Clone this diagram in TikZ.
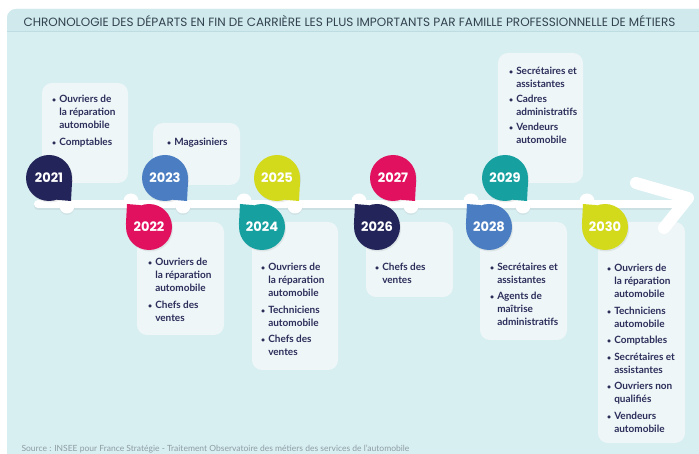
\documentclass[tikz,border=0pt]{standalone}
\usepackage{fontspec}
\setmainfont{Lato}
\newfontfamily\poppins{Poppins}
\definecolor{panelbg}{HTML}{D8EFF2}
\definecolor{headbg}{HTML}{CFE9ED}
\definecolor{headline}{HTML}{BEDDE3}
\definecolor{titlegray}{HTML}{33424F}
\definecolor{listnavy}{HTML}{2C2E5A}
\definecolor{boxbg}{HTML}{EEF6F8}
\definecolor{srcgray}{HTML}{8C9CA2}
\definecolor{ynavy}{HTML}{232459}
\definecolor{ypink}{HTML}{E2115F}
\definecolor{yblue}{HTML}{4A7DC1}
\definecolor{yteal}{HTML}{17A0A0}
\definecolor{yyellow}{HTML}{D3D91B}
\usetikzlibrary{positioning, calc, fit, shadows}
\newcommand{\bul}{{\fontsize{7}{7}\selectfont\textbullet}}

\begin{document}
\begin{tikzpicture}[x=1pt, y=-1pt,
    year/.style={circle, minimum size=46pt, inner sep=0pt, text=white,
                 font=\poppins\bfseries\fontsize{13}{13}\selectfont,
                 drop shadow={opacity=0.15, shadow xshift=1pt, shadow yshift=-1.5pt}},
    listbox/.style={rectangle, rounded corners=10pt, fill=boxbg, inner sep=0pt},
    liste/.style={anchor=north west, inner sep=0pt, text=listnavy,
                  font=\bfseries\fontsize{10}{13}\selectfont, align=left},
    trail/.style={white, line width=8pt, line cap=round}
  ]
    \useasboundingbox (0,0) rectangle (699,454);
    \clip (0,0) rectangle (699,454);
    % Panel and header band
    \fill[panelbg, rounded corners=9pt] (7,9) rectangle (720,480);
    \fill[headbg] (7,32) [rounded corners=9pt] -- (7,9) -- (720,9) [sharp corners] -- (720,32) -- cycle;
    \draw[headline, line width=1pt] (7,32) -- (699,32);
    \node[anchor=west, text=titlegray, font=\poppins\fontsize{12}{13}\selectfont] (title) at (20,21)
      {CHRONOLOGIE DES DÉPARTS EN FIN DE CARRIÈRE LES PLUS IMPORTANTS PAR FAMILLE PROFESSIONNELLE DE MÉTIERS};
    % Source
    \node[anchor=base west, text=srcgray, font=\fontsize{8.5}{9}\selectfont] (src) at (18,451)
      {Source : INSEE pour France Stratégie - Traitement Observatoire des métiers des services de l'automobile};

    % Boxes above the timeline
    \node[listbox, fit={(42,83) (128,183)}]  (b21) {};
    \node[listbox, fit={(153,123) (240,185)}] (b23) {};
    \node[listbox, fit={(498,53) (583,183)}]  (b29) {};
    % Boxes below the timeline
    \node[listbox, fit={(137,222) (224,335)}] (b22) {};
    \node[listbox, fit={(252,222) (338,370)}] (b24) {};
    \node[listbox, fit={(366,222) (453,297)}] (b26) {};
    \node[listbox, fit={(480,222) (567,340)}] (b28) {};
    \node[listbox, fit={(598,222) (685,443)}] (b30) {};

    % Lists of jobs
    \node[liste] (t21) at (52,93.5) {\begin{tabular}{@{}l@{\hspace{3pt}}l@{}}
      \bul & Ouvriers de\\ & la réparation\\ & automobile\\[4pt]
      \bul & Comptables\end{tabular}};
    \node[liste] (t23) at (167,136.5) {\begin{tabular}{@{}l@{\hspace{3pt}}l@{}}
      \bul & Magasiniers\end{tabular}};
    \node[liste] (t29) at (509,65.5) {\begin{tabular}{@{}l@{\hspace{3pt}}l@{}}
      \bul & Secrétaires et\\ & assistantes\\[2pt]
      \bul & Cadres\\ & administratifs\\[2pt]
      \bul & Vendeurs\\ & automobile\end{tabular}};
    \node[liste] (t22) at (148,256.5) {\begin{tabular}{@{}l@{\hspace{3pt}}l@{}}
      \bul & Ouvriers de\\ & la réparation\\ & automobile\\[4pt]
      \bul & Chefs des\\ & ventes\end{tabular}};
    \node[liste] (t24) at (261,261.5) {\begin{tabular}{@{}l@{\hspace{3pt}}l@{}}
      \bul & Ouvriers de\\ & la réparation\\ & automobile\\[3.5pt]
      \bul & Techniciens\\ & automobile\\[3.5pt]
      \bul & Chefs des\\ & ventes\end{tabular}};
    \node[liste] (t26) at (375,261.5) {\begin{tabular}{@{}l@{\hspace{3pt}}l@{}}
      \bul & Chefs des\\ & ventes\end{tabular}};
    \node[liste] (t28) at (490,261.5) {\begin{tabular}{@{}l@{\hspace{3pt}}l@{}}
      \bul & Secrétaires et\\ & assistantes\\[3pt]
      \bul & Agents de\\ & maîtrise\\ & administratifs\end{tabular}};
    \node[liste] (t30) at (607,262.5) {\begin{tabular}{@{}l@{\hspace{3pt}}l@{}}
      \bul & Ouvriers de\\ & la réparation\\ & automobile\\[3.5pt]
      \bul & Techniciens\\ & automobile\\[3.5pt]
      \bul & Comptables\\[3.5pt]
      \bul & Secrétaires et\\ & assistantes\\[3.5pt]
      \bul & Ouvriers non\\ & qualifiés\\[3.5pt]
      \bul & Vendeurs\\ & automobile\end{tabular}};

    % Timeline with arrow head
    \coordinate (ls)  at (38,204);
    \coordinate (le)  at (682,204);
    \coordinate (aup) at (636,183);
    \coordinate (tip) at (688,198);
    \coordinate (alo) at (664,228);
    \draw[trail, black, opacity=0.06] ($(ls)+(0,2.5)$) -- ($(le)+(0,2.5)$);
    \draw[trail] (ls) -- (le);
    \draw[white, line width=12pt, line cap=round, line join=round] (aup) -- (tip) -- (alo);
    % Bumps where the tails meet the line
    \foreach \bx in {67,183,295,411,523}
      \fill[white, drop shadow={opacity=0.1, shadow xshift=0pt, shadow yshift=-1.5pt}] (\bx,206) circle (7.5);
    \foreach \bx in {131,244,359,471,587}
      \fill[white] (\bx,201) circle (7.5);

    % Years above the line
    \node[year, fill=ynavy]   (y21) at (49,178)  {2021};
    \node[year, fill=yblue]   (y23) at (165,178) {2023};
    \node[year, fill=yyellow] (y25) at (277,178) {2025};
    \node[year, fill=ypink]   (y27) at (393,178) {2027};
    \node[year, fill=yteal]   (y29) at (505,178) {2029};
    \fill[ynavy]   (y21.-5) -- ($(y21.center)+(22,23)$) -- (y21.-70) -- cycle;
    \fill[yblue]   (y23.-5) -- ($(y23.center)+(22,23)$) -- (y23.-70) -- cycle;
    \fill[yyellow] (y25.-5) -- ($(y25.center)+(22,23)$) -- (y25.-70) -- cycle;
    \fill[ypink]   (y27.-5) -- ($(y27.center)+(22,23)$) -- (y27.-70) -- cycle;
    \fill[yteal]   (y29.-5) -- ($(y29.center)+(22,23)$) -- (y29.-70) -- cycle;
    % Years below the line
    \node[year, fill=ypink]   (y22) at (149,227) {2022};
    \node[year, fill=yteal]   (y24) at (262,227) {2024};
    \node[year, fill=ynavy]   (y26) at (377,227) {2026};
    \node[year, fill=yblue]   (y28) at (489,227) {2028};
    \node[year, fill=yyellow] (y30) at (605,227) {2030};
    \fill[ypink]   (y22.175) -- ($(y22.center)+(-22,-23)$) -- (y22.110) -- cycle;
    \fill[yteal]   (y24.175) -- ($(y24.center)+(-22,-23)$) -- (y24.110) -- cycle;
    \fill[ynavy]   (y26.175) -- ($(y26.center)+(-22,-23)$) -- (y26.110) -- cycle;
    \fill[yblue]   (y28.175) -- ($(y28.center)+(-22,-23)$) -- (y28.110) -- cycle;
    \fill[yyellow] (y30.175) -- ($(y30.center)+(-22,-23)$) -- (y30.110) -- cycle;
\end{tikzpicture}
\end{document}
